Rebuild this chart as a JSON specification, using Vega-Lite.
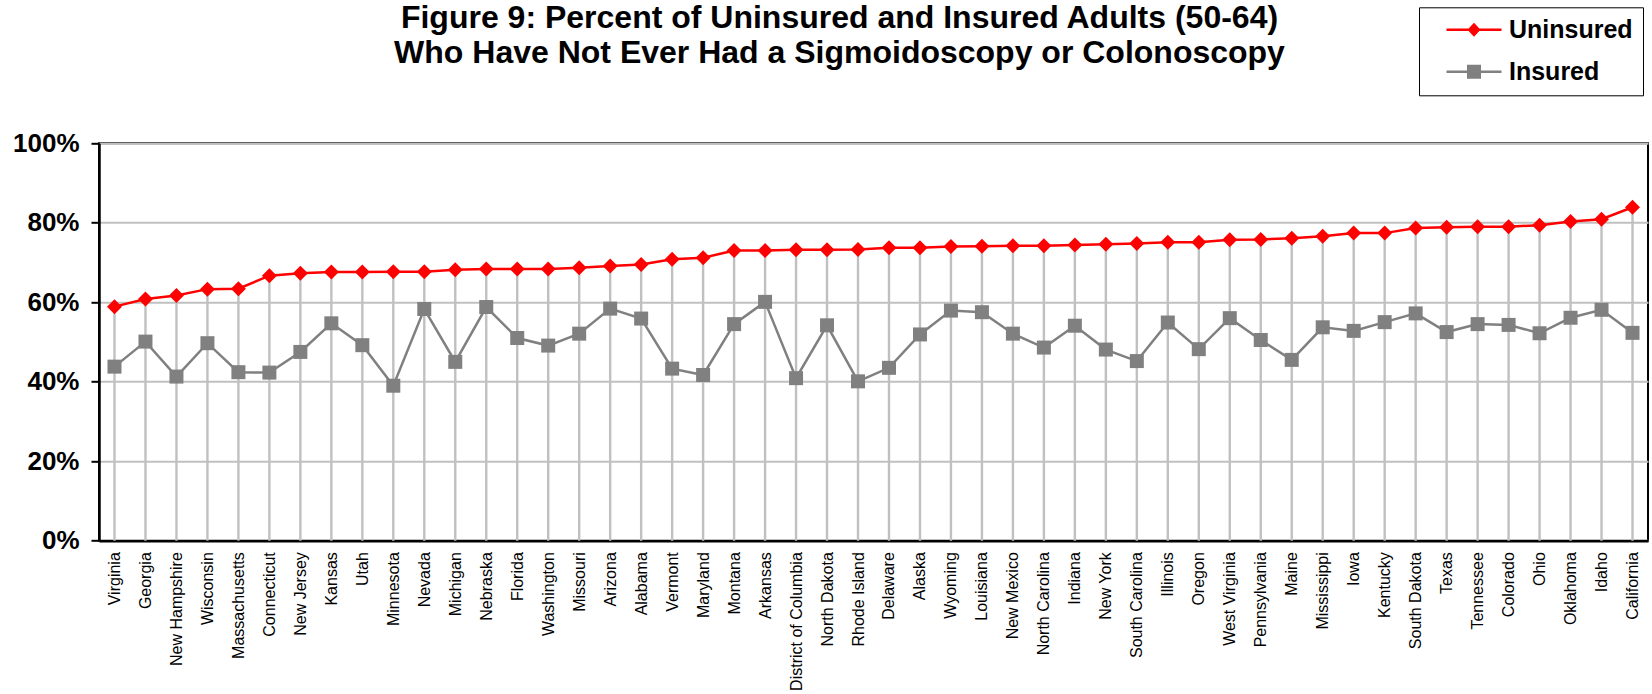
{
  "$schema": "https://vega.github.io/schema/vega-lite/v6.json",
  "autosize": {"type": "none"},
  "padding": {"left": 99, "top": 143.3, "right": 4, "bottom": 153.3},
  "width": 1549,
  "height": 397.4,
  "background": "white",
  "title": {
    "text": ["Figure 9: Percent of Uninsured and Insured Adults (50-64)", "Who Have Not Ever Had a Sigmoidoscopy or Colonoscopy"],
    "font": "Liberation Sans",
    "fontSize": 32,
    "fontWeight": "bold",
    "color": "black",
    "anchor": "middle",
    "frame": "group",
    "dx": -34,
    "offset": -63.2,
    "lineHeight": 35
  },
  "config": {
    "view": {"stroke": "black", "strokeWidth": 2},
    "font": "Liberation Sans"
  },
  "data": {
    "values": [
      {"state": "Virginia", "Uninsured": 58.9, "Insured": 43.8},
      {"state": "Georgia", "Uninsured": 60.8, "Insured": 50.1},
      {"state": "New Hampshire", "Uninsured": 61.7, "Insured": 41.3},
      {"state": "Wisconsin", "Uninsured": 63.3, "Insured": 49.7},
      {"state": "Massachusetts", "Uninsured": 63.4, "Insured": 42.4},
      {"state": "Connecticut", "Uninsured": 66.7, "Insured": 42.3},
      {"state": "New Jersey", "Uninsured": 67.3, "Insured": 47.5},
      {"state": "Kansas", "Uninsured": 67.6, "Insured": 54.7},
      {"state": "Utah", "Uninsured": 67.6, "Insured": 49.2},
      {"state": "Minnesota", "Uninsured": 67.7, "Insured": 39.0},
      {"state": "Nevada", "Uninsured": 67.7, "Insured": 58.3},
      {"state": "Michigan", "Uninsured": 68.2, "Insured": 45.0},
      {"state": "Nebraska", "Uninsured": 68.4, "Insured": 58.8},
      {"state": "Florida", "Uninsured": 68.4, "Insured": 51.0},
      {"state": "Washington", "Uninsured": 68.4, "Insured": 49.1},
      {"state": "Missouri", "Uninsured": 68.7, "Insured": 52.1},
      {"state": "Arizona", "Uninsured": 69.1, "Insured": 58.4},
      {"state": "Alabama", "Uninsured": 69.5, "Insured": 55.9},
      {"state": "Vermont", "Uninsured": 70.8, "Insured": 43.3},
      {"state": "Maryland", "Uninsured": 71.2, "Insured": 41.7},
      {"state": "Montana", "Uninsured": 73.0, "Insured": 54.5},
      {"state": "Arkansas", "Uninsured": 73.0, "Insured": 60.1},
      {"state": "District of Columbia", "Uninsured": 73.2, "Insured": 40.9},
      {"state": "North Dakota", "Uninsured": 73.2, "Insured": 54.2},
      {"state": "Rhode Island", "Uninsured": 73.3, "Insured": 40.1},
      {"state": "Delaware", "Uninsured": 73.7, "Insured": 43.5},
      {"state": "Alaska", "Uninsured": 73.7, "Insured": 51.9},
      {"state": "Wyoming", "Uninsured": 74.0, "Insured": 57.9},
      {"state": "Louisiana", "Uninsured": 74.1, "Insured": 57.5},
      {"state": "New Mexico", "Uninsured": 74.2, "Insured": 52.1},
      {"state": "North Carolina", "Uninsured": 74.2, "Insured": 48.6},
      {"state": "Indiana", "Uninsured": 74.4, "Insured": 54.1},
      {"state": "New York", "Uninsured": 74.6, "Insured": 48.1},
      {"state": "South Carolina", "Uninsured": 74.8, "Insured": 45.2},
      {"state": "Illinois", "Uninsured": 75.1, "Insured": 54.9},
      {"state": "Oregon", "Uninsured": 75.1, "Insured": 48.2},
      {"state": "West Virginia", "Uninsured": 75.7, "Insured": 56.0},
      {"state": "Pennsylvania", "Uninsured": 75.8, "Insured": 50.5},
      {"state": "Maine", "Uninsured": 76.1, "Insured": 45.5},
      {"state": "Mississippi", "Uninsured": 76.6, "Insured": 53.7},
      {"state": "Iowa", "Uninsured": 77.4, "Insured": 52.8},
      {"state": "Kentucky", "Uninsured": 77.4, "Insured": 55.0},
      {"state": "South Dakota", "Uninsured": 78.7, "Insured": 57.2},
      {"state": "Texas", "Uninsured": 78.9, "Insured": 52.5},
      {"state": "Tennessee", "Uninsured": 79.0, "Insured": 54.5},
      {"state": "Colorado", "Uninsured": 79.0, "Insured": 54.3},
      {"state": "Ohio", "Uninsured": 79.4, "Insured": 52.2},
      {"state": "Oklahoma", "Uninsured": 80.3, "Insured": 56.1},
      {"state": "Idaho", "Uninsured": 80.9, "Insured": 58.1},
      {"state": "California", "Uninsured": 83.9, "Insured": 52.3}
    ]
  },
  "encoding": {
    "x": {
      "field": "state",
      "type": "nominal",
      "sort": null,
      "scale": {"type": "point", "padding": 0.5},
      "axis": {
        "title": null,
        "labelAngle": 270,
        "labelAlign": "right",
        "labelBaseline": "middle",
        "labelFont": "Liberation Sans",
        "labelFontSize": 16,
        "labelColor": "black",
        "labelPadding": 11,
        "labelLimit": 300,
        "ticks": false,
        "grid": false,
        "domainColor": "black",
        "domainWidth": 2.5,
        "labelOverlap": false
      }
    }
  },
  "layer": [
    {
      "mark": {"type": "rule", "color": "#c0c0c0", "strokeWidth": 2.4},
      "encoding": {
        "y": {
          "field": "Uninsured",
          "type": "quantitative",
          "scale": {"domain": [0, 100], "nice": false, "zero": true},
          "axis": {
            "title": null,
            "values": [0, 20, 40, 60, 80, 100],
            "labelExpr": "datum.value + '%'",
            "labelFont": "Liberation Sans",
            "labelFontSize": 26,
            "labelFontWeight": "bold",
            "labelColor": "black",
            "labelPadding": 12,
            "tickColor": "black",
            "tickSize": 8,
            "tickWidth": 2,
            "domainColor": "black",
            "domainWidth": 2.5,
            "grid": true,
            "gridColor": "#c0c0c0",
            "gridWidth": 2
          }
        },
        "y2": {"datum": 0}
      }
    },
    {
      "transform": [{"fold": ["Uninsured", "Insured"], "as": ["group", "val"]}],
      "mark": {"type": "line", "strokeWidth": 2.5},
      "encoding": {
        "y": {"field": "val", "type": "quantitative"},
        "color": {
          "field": "group",
          "type": "nominal",
          "scale": {"domain": ["Uninsured", "Insured"], "range": ["#ff0000", "#808080"]},
          "legend": {
            "orient": "none",
            "legendX": 1320,
            "legendY": -136,
            "title": null,
            "padding": 10,
            "strokeColor": "black",
            "fillColor": "white",
            "symbolSize": 400,
            "labelFont": "Liberation Sans",
            "labelFontSize": 25,
            "labelFontWeight": "bold",
            "labelColor": "black",
            "labelOffset": 55,
            "labelLimit": 300,
            "rowPadding": 16,
            "encode": {
              "symbols": {
                "update": {
                  "shape": {"signal": "datum.value === 'Uninsured' ? 'M0.5,-0.12 L2.71,-0.12 L3.25,-0.7 L3.79,-0.12 L6,-0.12 L6,0.12 L3.79,0.12 L3.25,0.7 L2.71,0.12 L0.5,0.12 Z' : 'M0.5,-0.12 L2.55,-0.12 L2.55,-0.7 L3.95,-0.7 L3.95,-0.12 L6,-0.12 L6,0.12 L3.95,0.12 L3.95,0.7 L2.55,0.7 L2.55,0.12 L0.5,0.12 Z'"},
                  "fill": {"signal": "datum.value === 'Uninsured' ? '#ff0000' : '#808080'"},
                  "strokeWidth": {"value": 0},
                  "opacity": {"value": 1},
                  "fillOpacity": {"value": 1}
                }
              }
            }
          }
        }
      }
    },
    {
      "transform": [{"filter": "datum.Insured != null"}],
      "mark": {"type": "point", "shape": "square", "size": 196, "filled": true, "opacity": 1, "color": "#808080", "strokeWidth": 0},
      "encoding": {
        "y": {"field": "Insured", "type": "quantitative"}
      }
    },
    {
      "transform": [{"filter": "datum.Uninsured != null"}],
      "mark": {"type": "point", "shape": "diamond", "size": 225, "filled": true, "opacity": 1, "color": "#ff0000", "strokeWidth": 0},
      "encoding": {
        "y": {"field": "Uninsured", "type": "quantitative"}
      }
    }
  ]
}
